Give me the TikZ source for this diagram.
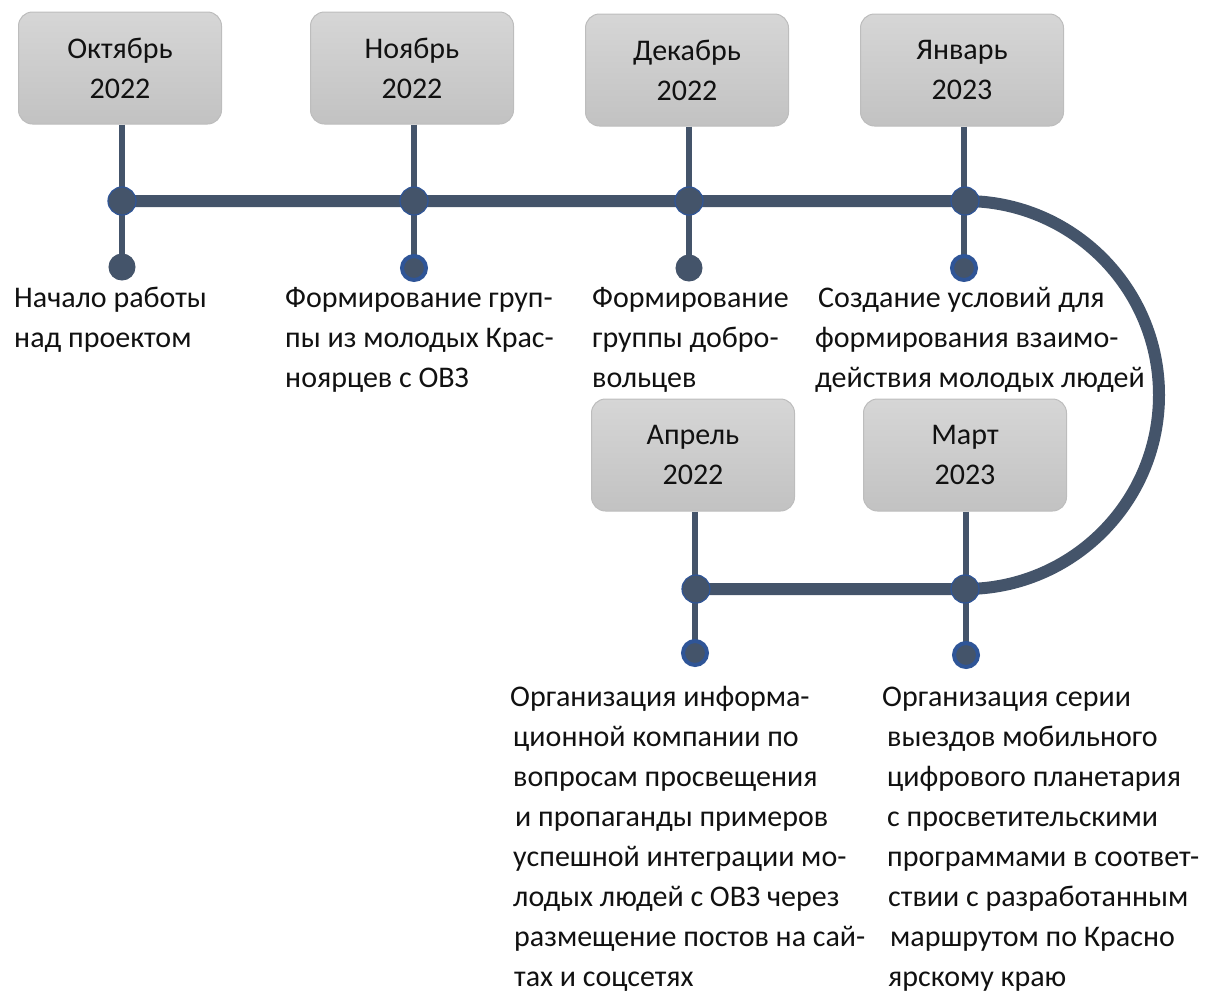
\documentclass[tikz,border=0pt]{standalone}
\usepackage{fontspec}
\setmainfont{Carlito}
\definecolor{linecol}{HTML}{44546A}
\definecolor{ringcol}{HTML}{2F5597}
\definecolor{boxtop}{HTML}{D6D6D6}
\definecolor{boxbot}{HTML}{C2C2C2}
\definecolor{boxedge}{HTML}{BDBDBD}
\definecolor{txt}{HTML}{111111}
\newcommand{\firstline}{\rule{0pt}{26pt}}
\begin{document}
\begin{tikzpicture}[x=1pt,y=-1pt,
  month/.style={draw=boxedge, line width=1pt, rounded corners=14pt,
    top color=boxtop, bottom color=boxbot, minimum width=203pt,
    minimum height=112pt, align=center, text=txt,
    font=\fontsize{30}{40}\selectfont},
  hub/.style={circle, fill=linecol, draw=ringcol, line width=1.2pt,
    minimum size=28pt, inner sep=0pt},
  tip/.style={circle, fill=linecol, draw=linecol, line width=1pt,
    minimum size=26pt, inner sep=0pt},
  tipring/.style={circle, fill=linecol, draw=ringcol, line width=4pt,
    minimum size=24pt, inner sep=0pt},
  stem/.style={draw=linecol, line width=6pt},
  track/.style={draw=linecol, line width=12pt},
  note/.style={anchor=north west, inner sep=0pt, align=left, text=txt,
    font=\fontsize{30}{40}\selectfont}
]
\useasboundingbox (0,0) rectangle (1218,994);

% month boxes
\node[month] (oct) at (120,68) {Октябрь\\2022};
\node[month] (nov) at (412,68) {Ноябрь\\2022};
\node[month] (dec) at (687,70) {Декабрь\\2022};
\node[month] (jan) at (962,70) {Январь\\2023};
\node[month] (apr) at (693,455) {Апрель\\2022};
\node[month] (mar) at (965,455) {Март\\2023};

% points on the track
\coordinate (hoct) at (122,201);
\coordinate (hnov) at (414,201);
\coordinate (hdec) at (689,201);
\coordinate (hjan) at (965,201);
\coordinate (hmar) at (965,589);
\coordinate (hapr) at (696,589);

% end points of the stems
\coordinate (toct) at (122,267);
\coordinate (tnov) at (414,268);
\coordinate (tdec) at (689,268);
\coordinate (tjan) at (964,268);
\coordinate (tapr) at (695,653);
\coordinate (tmar) at (966,655);

% stems
\draw[stem] (oct.south -| toct) -- (toct);
\draw[stem] (nov.south -| tnov) -- (tnov);
\draw[stem] (dec.south -| tdec) -- (tdec);
\draw[stem] (jan.south -| tjan) -- (tjan);
\draw[stem] (apr.south -| tapr) -- (tapr);
\draw[stem] (mar.south -| tmar) -- (tmar);

% the track with its turn
\draw[track] (hoct) -- (hjan) arc[start angle=-90, end angle=90, radius=194] -- (hapr);

% dots
\foreach \p in {hoct,hnov,hdec,hjan,hapr,hmar}
  \node[hub] at (\p) {};
\node[tip] at (toct) {};
\node[tipring] at (tnov) {};
\node[tip] at (tdec) {};
\node[tipring] at (tjan) {};
\node[tipring] at (tapr) {};
\node[tipring] at (tmar) {};

% descriptions
\node[note] (n1) at (14,281) {\firstline Начало работы\\над проектом};
\node[note] (n2) at (285,281) {\firstline Формирование груп-\\пы из молодых Крас-\\ноярцев с ОВЗ};
\node[note] (n3) at (592,281) {\firstline Формирование\\группы добро-\\вольцев};
\node[note] (n4) at (815,281) {\firstline\hspace{3pt}Создание условий для\\формирования взаимо-\\действия молодых людей};
\node[note] (n5) at (510,680) {\firstline Организация информа-\\\hspace{3pt}ционной компании по\\\hspace{3pt}вопросам просвещения\\\hspace{5pt}и пропаганды примеров\\\hspace{3pt}успешной интеграции мо-\\\hspace{3pt}лодых людей с ОВЗ через\\\hspace{4pt}размещение постов на сай-\\\hspace{4pt}тах и соцсетях};
\node[note] (n6) at (882,680) {\firstline Организация серии\\\hspace{5pt}выездов мобильного\\\hspace{5pt}цифрового планетария\\\hspace{5pt}с просветительскими\\\hspace{5pt}программами в соответ-\\\hspace{6pt}ствии с разработанным\\\hspace{8pt}маршрутом по Красно\\\hspace{6pt}ярскому краю};
\end{tikzpicture}
\end{document}
